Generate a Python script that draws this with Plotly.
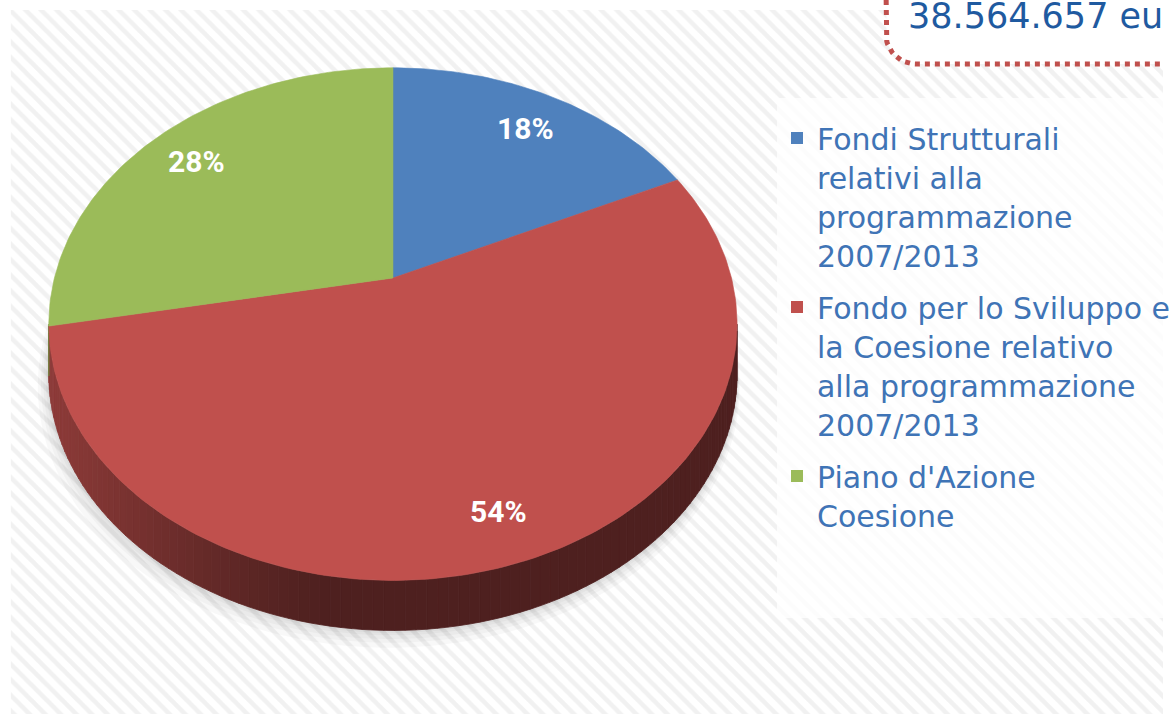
import numpy as np
import plotly.graph_objects as go

# ---------------- data ----------------
categories = [
    "Fondi Strutturali relativi alla programmazione 2007/2013",
    "Fondo per lo Sviluppo e la Coesione relativo alla programmazione 2007/2013",
    "Piano d'Azione Coesione",
]
legend_names = [
    "Fondi Strutturali<br>relativi alla<br>programmazione<br>2007/2013",
    "Fondo per lo Sviluppo e<br>la Coesione relativo<br>alla programmazione<br>2007/2013",
    "Piano d'Azione<br>Coesione",
]
shares = [18, 54, 28]
slice_colors = ["#4F81BD", "#C0504D", "#9BBB59"]
total_text = "38.564.657 eu"

# ---------------- geometry (page pixel space) ----------------
W, H = 1175, 714
CX, CY = 397, 278          # apex of the tilted pie
A, B, P = 342, 248, 0.18   # horizontal / vertical radius, perspective
DEPTH = 50                 # thickness of the pie


def proj(theta_deg, r=1.0, dy=0.0, scale=1.0, dx=0.0):
    t = np.radians(theta_deg)
    den = 1 + P * r * np.cos(t)
    x = CX + dx + A * scale * r * np.sin(t) / den
    y = CY + dy - B * scale * r * np.cos(t) / den
    return x, y


def hex_rgb(h):
    h = h.lstrip("#")
    return tuple(int(h[i:i + 2], 16) for i in (0, 2, 4))


fig = go.Figure()

# striped background
fig.add_trace(go.Scatter(
    x=[11, W + 5, W + 5, 11, 11], y=[10, 10, H + 5, H + 5, 10],
    fill="toself", mode="none", fillcolor="white",
    fillpattern=dict(shape="\\", size=11, solidity=0.42, fgcolor="#e4e4e4", bgcolor="white"),
    hoverinfo="skip", showlegend=False))

# lighter legend panel
fig.add_trace(go.Scatter(
    x=[785, W + 5, W + 5, 785, 785], y=[98, 98, 618, 618, 98],
    fill="toself", mode="none", fillcolor="rgba(255,255,255,0.78)",
    hoverinfo="skip", showlegend=False))

# soft shadow below the pie
th_all = np.linspace(0, 360, 361)
for k in [14, 10, 7, 4, 2]:
    sx, sy = proj(th_all, dy=DEPTH + k * 0.8, scale=1 + k / 700, dx=-k * 0.3)
    fig.add_trace(go.Scatter(x=sx, y=sy, fill="toself", mode="none",
                             fillcolor="rgba(0,0,0,0.028)", hoverinfo="skip", showlegend=False))

# slice angle ranges (start at top, clockwise)
cum = np.cumsum([0] + shares)
total = cum[-1]
starts = [360 * cum[i] / total for i in range(len(shares))]
ends = [360 * cum[i + 1] / total for i in range(len(shares))]

# visible side wall
t_lo = np.degrees(np.arccos(-P))
t_hi = 360 - t_lo


def side_factor(x):
    u = np.clip((330 - x) / 280, 0, 1)
    return 0.41 + 0.33 * u ** 1.2


for i in range(len(shares)):
    a0, a1 = max(starts[i], t_lo), min(ends[i], t_hi)
    if a1 <= a0:
        continue
    n = max(1, int(np.ceil((a1 - a0) / 1.5)))
    edges = np.linspace(a0, a1, n + 1)
    base = hex_rgb(slice_colors[i])
    for j in range(n):
        seg = np.linspace(edges[j], edges[j + 1], 4)
        tx, ty = proj(seg)
        bx, by = proj(seg[::-1], dy=DEPTH)
        mx = float(np.mean(tx))
        f = side_factor(mx)
        col = "rgb(%d,%d,%d)" % tuple(int(c * f) for c in base)
        fig.add_trace(go.Scatter(
            x=np.concatenate([tx, bx, tx[:1]]), y=np.concatenate([ty, by, ty[:1]]),
            fill="toself", mode="lines", line=dict(color=col, width=0.8),
            fillcolor=col, hoverinfo="skip", showlegend=False))

# top faces
for i in range(len(shares)):
    arc = np.linspace(starts[i], ends[i], max(3, int(ends[i] - starts[i]) + 2))
    ax_, ay_ = proj(arc)
    fig.add_trace(go.Scatter(
        x=np.concatenate([[CX], ax_, [CX]]), y=np.concatenate([[CY], ay_, [CY]]),
        fill="toself", mode="lines", line=dict(color=slice_colors[i], width=0.6),
        fillcolor=slice_colors[i], name=categories[i],
        hovertemplate=f"{categories[i]}: {shares[i]}%<extra></extra>", showlegend=False))

# percentage labels
for i in range(len(shares)):
    mid = (starts[i] + ends[i]) / 2
    bx, by = proj(mid)
    lx = CX + 0.84 * (bx - CX)
    ly = CY + 0.82 * (by - CY)
    fig.add_annotation(x=lx, y=ly, xref="x", yref="y", text=f"<b>{shares[i]}%</b>",
                       showarrow=False, font=dict(family="Roboto", size=30, color="white"))

# legend entries
for i in range(len(shares)):
    fig.add_trace(go.Scatter(
        x=[None], y=[None], mode="markers", name=legend_names[i], legendgroup=str(i),
        marker=dict(symbol="square", size=16, color=slice_colors[i])))

# total box (top-right)
r = 30
arc_t = np.linspace(180, 90, 20)
bx_ = 895 + r + r * np.cos(np.radians(arc_t))
by_ = 64 - r + r * np.sin(np.radians(arc_t))
box_x = np.concatenate([[895], bx_, [W + 20, W + 20, 895]])
box_y = np.concatenate([[-20], by_, [64, -20, -20]])
fig.add_trace(go.Scatter(
    x=box_x, y=box_y, fill="toself", fillcolor="white", mode="lines",
    line=dict(color="#C0504D", width=5, dash="5px,5px"),
    hoverinfo="skip", showlegend=False))
fig.add_annotation(x=915, y=38, xref="x", yref="y", text=total_text, showarrow=False,
                   xanchor="left", yanchor="bottom",
                   font=dict(family="DejaVu Sans", size=35, color="#1F5AA0"))

fig.update_layout(
    width=W, height=H, autosize=False,
    margin=dict(l=0, r=0, t=0, b=0),
    paper_bgcolor="white", plot_bgcolor="white",
    xaxis=dict(range=[0, W], visible=False, fixedrange=True),
    yaxis=dict(range=[H, 0], visible=False, fixedrange=True),
    showlegend=True,
    legend=dict(x=785 / W, y=1 - 112 / H,
                xanchor="left", yanchor="top",
                font=dict(family="DejaVu Sans", size=30, color="#3F74B6"),
                bgcolor="rgba(0,0,0,0)", tracegroupgap=10, valign="top",
                itemsizing="constant"),
)

fig.write_html("out.html", config={"displayModeBar": False},
               post_script="document.body.style.margin='0';document.body.style.overflow='hidden';")
